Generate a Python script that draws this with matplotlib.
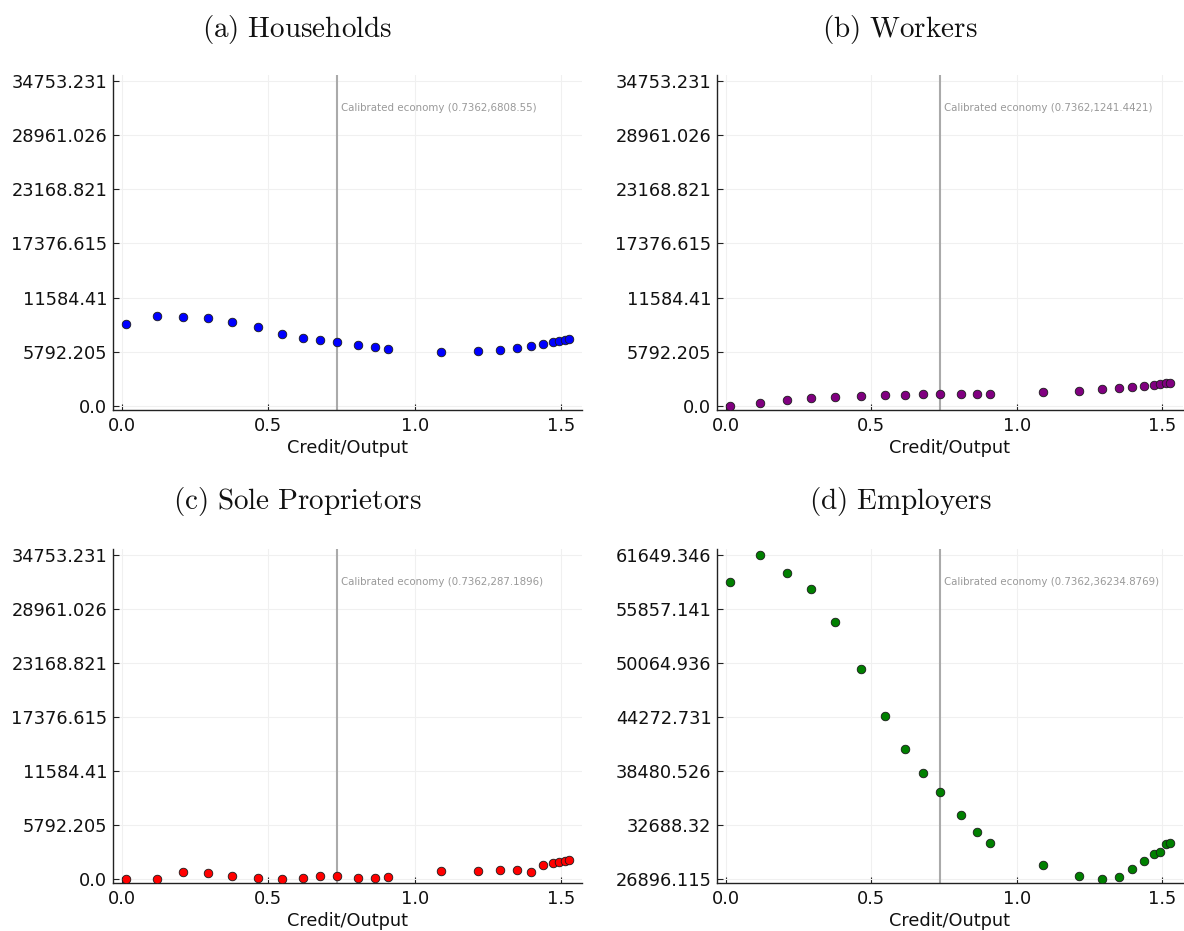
import matplotlib
matplotlib.use("Agg")
import matplotlib.pyplot as plt
import matplotlib.transforms as mtransforms

plt.rcParams["mathtext.fontset"] = "cm"
plt.rcParams["font.family"] = ["DejaVu Sans"]

# ---- data ----
credit_output = [0.016, 0.119, 0.210, 0.293, 0.376, 0.466, 0.546, 0.617, 0.678, 0.7362,
                 0.807, 0.863, 0.909, 1.090, 1.215, 1.291, 1.350, 1.396, 1.438, 1.470,
                 1.492, 1.511, 1.525]

households = [8724, 9607, 9536, 9360, 9007, 8441, 7735, 7311, 6993, 6808.55,
              6499, 6252, 6075, 5792, 5828, 5969, 6146, 6358, 6605, 6781,
              6887, 6993, 7099]

workers = [35, 283, 600, 812, 989, 1060, 1130, 1201, 1236, 1241.44,
           1307, 1307, 1307, 1483, 1625, 1766, 1907, 2013, 2155, 2260,
           2331, 2402, 2437]

sole_proprietors = [20, 20, 742, 671, 353, 71, 20, 71, 283, 287.19,
                    71, 71, 212, 883, 883, 918, 989, 777, 1448, 1660,
                    1766, 1943, 2049]

employers = [58700, 61649.346, 59660, 57954, 54436, 49356, 44310, 40793, 38271, 36234.88,
             33758, 31911, 30774, 28358, 27221, 26896.115, 27150, 27931, 28785, 29531,
             29744, 30667, 30774]

panel_titles = [r"$\mathrm{(a)\ Households}$", r"$\mathrm{(b)\ Workers}$",
                r"$\mathrm{(c)\ Sole\ Proprietors}$", r"$\mathrm{(d)\ Employers}$"]

calib_x = 0.7362
calib_labels = ["Calibrated economy (0.7362,6808.55)",
                "Calibrated economy (0.7362,1241.4421)",
                "Calibrated economy (0.7362,287.1896)",
                "Calibrated economy (0.7362,36234.8769)"]

ytick_labels_common = ["0.0", "5792.205", "11584.41", "17376.615",
                       "23168.821", "28961.026", "34753.231"]
ytick_labels_employers = ["26896.115", "32688.32", "38480.526", "44272.731",
                          "50064.936", "55857.141", "61649.346"]
xticks = [0.0, 0.5, 1.0, 1.5]
xtick_labels = ["0.0", "0.5", "1.0", "1.5"]

series = [households, workers, sole_proprietors, employers]
colors = ["#0000ff", "#800080", "#ff0000", "#008000"]
ytick_sets = [ytick_labels_common, ytick_labels_common, ytick_labels_common,
              ytick_labels_employers]

# ---- figure ----
W, H = 1184, 931
fig = plt.figure(figsize=(W / 100, H / 100), dpi=100)

# axes rectangles in pixels: left, top, right, bottom
rects = [(113, 75, 582, 410), (717, 75, 1183, 410),
         (113, 549, 582, 883), (717, 549, 1183, 883)]
title_pos = [(297, 29), (900, 29), (297, 501), (900, 501)]

for i in range(4):
    l, t, r, b = rects[i]
    ax = fig.add_axes([l / W, 1 - b / H, (r - l) / W, (b - t) / H])
    ax.scatter(credit_output, series[i], s=38, c=colors[i], edgecolors="#1a1a1a",
               linewidths=0.6, zorder=3)
    ax.axvline(calib_x, color="#aaaaaa", lw=1.5, zorder=2)

    yt = [float(v) for v in ytick_sets[i]]
    lo, hi = yt[0], yt[-1]
    R = hi - lo
    ax.set_ylim(lo - 0.0125 * R, hi + 0.0175 * R)
    ax.set_yticks(yt)
    ax.set_yticklabels(ytick_sets[i])
    ax.set_xlim(-0.0297, 1.5705)
    ax.set_xticks(xticks)
    ax.set_xticklabels(xtick_labels)

    ax.grid(True, color="#f0f0f0", lw=0.8, zorder=0)
    ax.set_axisbelow(True)
    for s in ["top", "right"]:
        ax.spines[s].set_visible(False)
    for s in ["left", "bottom"]:
        ax.spines[s].set_color("#222222")
        ax.spines[s].set_linewidth(1.0)
    ax.tick_params(direction="in", length=4, width=0.8, color="#222222",
                   labelsize=12.8, labelcolor="#111111")
    ax.tick_params(axis="y", pad=4)
    ax.tick_params(axis="x", pad=5)
    ax.set_xlabel("Credit/Output", fontsize=12.8, labelpad=3, color="#111111")

    trans = mtransforms.blended_transform_factory(ax.transData, ax.transAxes)
    ax.text(calib_x + 0.012, 0.90, calib_labels[i], transform=trans,
            fontsize=7.4, color="#999999", va="center", ha="left")

    tx, ty = title_pos[i]
    fig.text(tx / W, 1 - ty / H, panel_titles[i], fontsize=21,
             ha="center", va="center", color="#111111")

fig.savefig("out.png", dpi=100)
